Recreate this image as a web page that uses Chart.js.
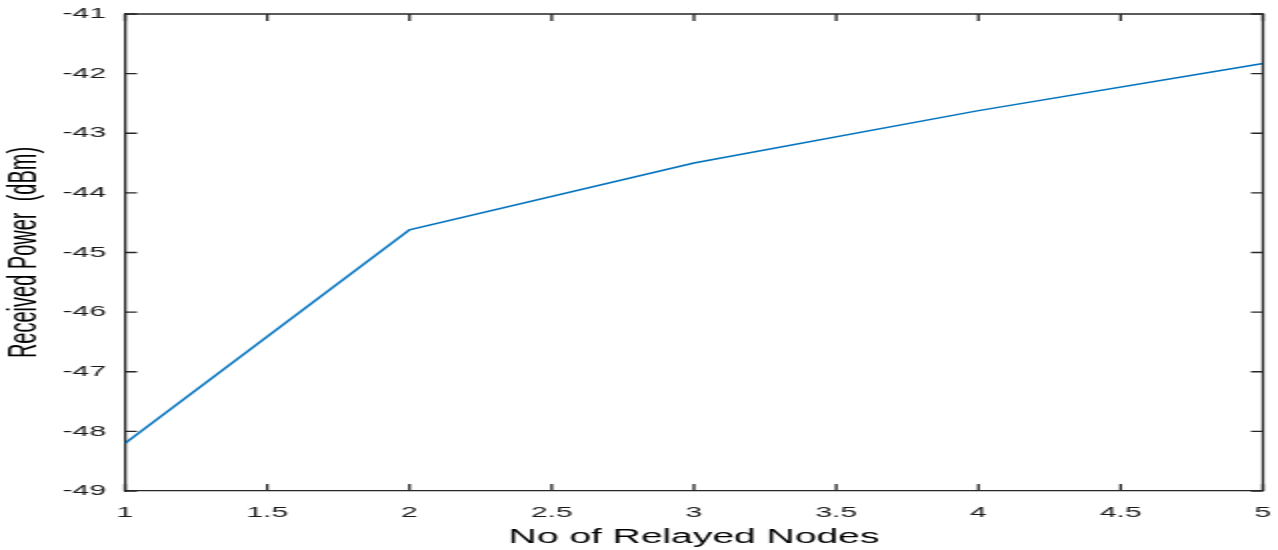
<!DOCTYPE html>
<html>
<head>
<meta charset="utf-8">
<script src="https://cdn.jsdelivr.net/npm/chart.js"></script>
<style>
  html, body { margin: 0; padding: 0; background: #fff; overflow: hidden; }
  #wrap { width: 639px; height: 550px; transform: scaleX(2); transform-origin: 0 0; }
</style>
</head>
<body>
<div id="wrap"><canvas id="powerChart" width="639" height="550"></canvas></div>
<script>
// values
const relayedNodes = [1, 2, 3, 4, 5];
const receivedPower = [-48.2, -44.62, -43.5, -42.62, -41.83];
const xTitle = 'No of Relayed Nodes';
const yTitle = 'Received Power  (dBm)';

const axisColor = '#262626';

// MATLAB style box with inward ticks on all four sides
const boxTicks = {
    id: 'boxTicks',
    afterDraw(chart) {
        const c = chart.ctx;
        const a = chart.chartArea;
        const xs = chart.scales.x;
        const ys = chart.scales.y;
        c.save();
        c.strokeStyle = axisColor;
        c.lineWidth = 1.3;
        c.beginPath();
        c.moveTo(a.left, a.top);
        c.lineTo(a.right, a.top);
        c.lineTo(a.right, a.bottom);
        c.stroke();
        c.beginPath();
        xs.ticks.forEach(t => {
            const px = xs.getPixelForValue(t.value);
            c.moveTo(px, a.bottom);
            c.lineTo(px, a.bottom - 7);
            c.moveTo(px, a.top);
            c.lineTo(px, a.top + 7);
        });
        ys.ticks.forEach(t => {
            const py = ys.getPixelForValue(t.value);
            c.moveTo(a.left, py);
            c.lineTo(a.left + 6, py);
            c.moveTo(a.right, py);
            c.lineTo(a.right - 6, py);
        });
        c.stroke();
        c.restore();
    }
};

// the label gap comes from tickLength (grid itself hidden) so it does not push the plot edges in
const chart = new Chart(document.getElementById('powerChart'), {
    type: 'line',
    data: {
        datasets: [{
            data: relayedNodes.map((x, i) => ({ x: x, y: receivedPower[i] })),
            borderColor: '#0072BD',
            borderWidth: 1.5,
            pointRadius: 0,
            fill: false,
            tension: 0
        }]
    },
    options: {
        responsive: false,
        devicePixelRatio: 1,
        animation: false,
        layout: { padding: { left: 0, right: 7.5, top: 14, bottom: 0 } },
        plugins: { legend: { display: false }, tooltip: { enabled: false } },
        scales: {
            x: {
                type: 'linear',
                min: 1,
                max: 5,
                afterFit: s => { s.height = 59; },
                grid: { display: false, drawTicks: true, tickLength: 13 },
                border: { display: true, color: axisColor, width: 1.3 },
                ticks: {
                    stepSize: 0.5,
                    padding: 0,
                    color: '#1a1a1a',
                    maxRotation: 0,
                    callback: v => String(v),
                    font: { family: 'Liberation Sans', size: 15 }
                },
                title: {
                    display: true,
                    text: xTitle,
                    color: '#000',
                    padding: { top: 0, bottom: 1 },
                    font: { family: 'Liberation Sans', size: 19.5 }
                }
            },
            y: {
                min: -49,
                max: -41,
                afterFit: s => { s.width = 62.5; },
                grid: { display: false, drawTicks: true, tickLength: 9.5 },
                border: { display: true, color: axisColor, width: 1.3 },
                ticks: {
                    stepSize: 1,
                    padding: 0,
                    color: '#1a1a1a',
                    callback: v => String(v),
                    font: { family: 'Liberation Sans', size: 15 }
                },
                title: {
                    display: true,
                    text: yTitle,
                    color: '#000',
                    padding: { top: 0, bottom: 0 },
                    font: { family: 'Liberation Sans', size: 20 }
                }
            }
        }
    },
    plugins: [boxTicks]
});
</script>
</body>
</html>
